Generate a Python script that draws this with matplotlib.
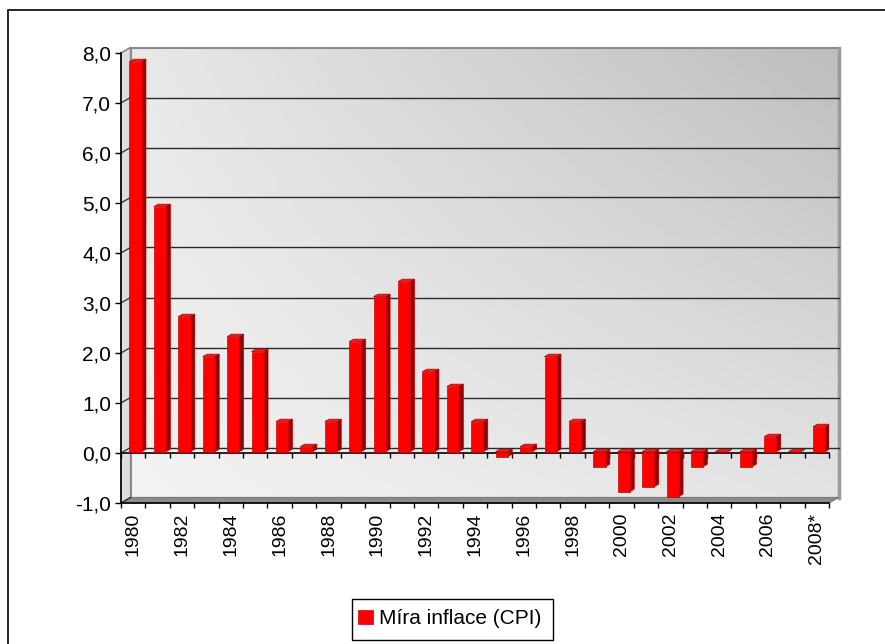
"""Japan CPI inflation 1980-2008, Excel-style 3D column chart."""

import matplotlib
matplotlib.use("Agg")
import matplotlib.pyplot as plt
from matplotlib.patches import Polygon, Rectangle
import numpy as np

plt.rcParams["font.family"] = ["Liberation Sans", "DejaVu Sans"]

# ---------------------------------------------------------------------------
# Data
# ---------------------------------------------------------------------------
years = [str(y) for y in range(1980, 2008)] + ["2008*"]
inflation = [7.8, 4.9, 2.7, 1.9, 2.3, 2.0, 0.6, 0.1, 0.6, 2.2,
             3.1, 3.4, 1.6, 1.3, 0.6, -0.1, 0.1, 1.9, 0.6, -0.3,
             -0.8, -0.7, -0.9, -0.3, 0.0, -0.3, 0.3, 0.0, 0.5]
series_name = "Míra inflace (CPI)"
y_ticks = list(range(-1, 9))

# ---------------------------------------------------------------------------
# Geometry (pixels of the 885x644 canvas)
# ---------------------------------------------------------------------------
W, H = 885, 644
X0, X1 = 121, 829          # front plane, left/right
Y_TOP, Y_BOT = 53, 503     # front plane, 8.0 / -1.0
n = len(years)
ymin, ymax = y_ticks[0], y_ticks[-1]
PXX = n / (X1 - X0)
PXY = (ymax - ymin) / (Y_BOT - Y_TOP)
DX, DY = 9.5 * PXX, 5.5 * PXY      # depth of the plot box
BF = 0.25                          # bar front at this depth fraction
BB = 0.70                          # bar back

fig = plt.figure(figsize=(W / 100, H / 100), dpi=100)
ax = fig.add_axes([X0 / W, (H - Y_BOT) / H, (X1 - X0) / W, (Y_BOT - Y_TOP) / H])

# back wall with gradient
gx, gy = np.meshgrid(np.linspace(0, 1, 200), np.linspace(0, 1, 200))
grad = 0.95 - 0.06 * gx - 0.04 * gy - 0.11 * gx * gy
img = ax.imshow(grad, cmap="gray", vmin=0, vmax=1, origin="lower", aspect="auto",
                extent=(DX, n + DX, ymin + DY, ymax + DY), zorder=0,
                interpolation="bilinear")
img.set_clip_on(False)
ax.add_patch(Rectangle((DX, ymin + DY), n, ymax - ymin, fill=False,
                       ec="#8a8a8a", lw=1.5, zorder=1, clip_on=False))
ax.plot([n + DX, n + DX], [ymin + DY, ymax + DY], color="#9a9a9a", lw=2.5,
        zorder=1, clip_on=False)

# side wall and floor
ax.add_patch(Polygon([(0, ymin), (DX, ymin + DY), (DX, ymax + DY), (0, ymax)],
                     closed=True, fc="#dedede", ec="#8a8a8a", lw=1.0,
                     zorder=1, clip_on=False))
ax.add_patch(Polygon([(0, ymin), (n, ymin), (n + DX, ymin + DY), (DX, ymin + DY)],
                     closed=True, fc="#8c8c8c", ec="#7a7a7a", lw=0.8,
                     zorder=1, clip_on=False))

# gridlines on back and side wall
for yv in y_ticks[1:-1]:
    ax.plot([DX, n + DX], [yv + DY, yv + DY], color="#2a2a2a", lw=1.0,
            zorder=2, clip_on=False)
for yv in y_ticks[:-1]:
    ax.plot([0, DX], [yv, yv + DY], color="#2a2a2a", lw=0.9, zorder=2,
            clip_on=False)
ax.plot([0, DX], [ymax, ymax + DY], color="#8a8a8a", lw=1.0, zorder=2,
        clip_on=False)

# category axis at zero
ax.plot([0, n], [0, 0], color="black", lw=1.2, zorder=3, clip_on=False)
ax.vlines(np.arange(n + 1), -5 * PXY, 0, color="black", lw=1.0, zorder=3,
          clip_on=False)

# bars: front faces
centers = np.arange(n) + 0.5
bars = ax.bar(centers + BF * DX, inflation, width=0.5, bottom=BF * DY,
              color="#ff0000", edgecolor="#d00000", linewidth=0.5, zorder=5,
              label=series_name)

# bars: side and top faces
bdx, bdy = (BB - BF) * DX, (BB - BF) * DY
for rect in bars:
    xl = rect.get_x()
    xr = xl + rect.get_width()
    y0 = rect.get_y()
    y1 = y0 + rect.get_height()
    lo, hi = min(y0, y1), max(y0, y1)
    ax.add_patch(Polygon([(xr, lo), (xr + bdx, lo + bdy), (xr + bdx, hi + bdy), (xr, hi)],
                         closed=True, fc="#8e0000", ec="#c00000", lw=0.5, zorder=4))
    ax.add_patch(Polygon([(xl, hi), (xr, hi), (xr + bdx, hi + bdy), (xl + bdx, hi + bdy)],
                         closed=True, fc="#ff1a1a", ec="#b00000", lw=0.5, zorder=6))

ax.set_xlim(0, n)
ax.set_ylim(ymin, ymax)
ax.set_facecolor("none")
for side in ("top", "right"):
    ax.spines[side].set_visible(False)
ax.spines["left"].set_linewidth(1.2)
ax.spines["bottom"].set_linewidth(1.2)
ax.spines["left"].set_zorder(7)

ax.set_yticks(y_ticks)
ax.set_yticklabels([f"{v:.1f}".replace(".", ",") for v in y_ticks], fontsize=15)
ax.tick_params(axis="y", direction="out", length=4.5, width=1.0, pad=2.5)

ax.set_xticks(np.arange(n + 1))
ax.set_xticklabels([])
ax.tick_params(axis="x", which="major", direction="out", length=3.8, width=1.0)
ax.set_xticks(centers[::2], minor=True)
ax.set_xticklabels(years[::2], minor=True, rotation=90, fontsize=14,
                   va="top", ha="center")
ax.tick_params(axis="x", which="minor", length=0, pad=7)

# legend box
fig.add_artist(Rectangle((352 / W, (H - 640) / H), 201 / W, 41 / H,
                         transform=fig.transFigure, fill=False, ec="black", lw=1.0))
fig.legend(handles=[bars], loc="center left",
           bbox_to_anchor=(358 / W, (H - 619) / H), frameon=False,
           fontsize=15, handlelength=0.72, handleheight=0.62,
           handletextpad=0.3, borderpad=0, borderaxespad=0)

# outer chart border
fig.add_artist(Rectangle((8 / W, -0.5), 2, 0.5 + (H - 10) / H,
                         transform=fig.transFigure, fill=False, ec="black", lw=1.2))

fig.savefig("out.png", dpi=100)
plt.close(fig)
